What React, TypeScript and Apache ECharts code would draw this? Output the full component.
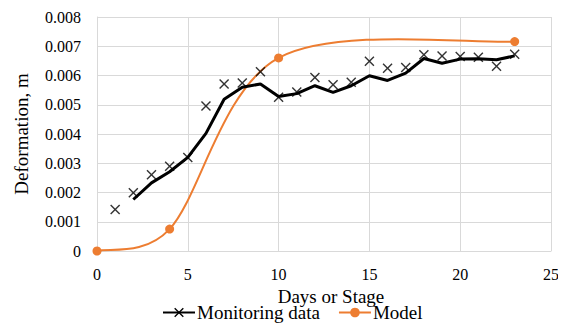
import React, { useEffect, useRef } from "react";
import * as echarts from "echarts";

const monitorDays = [1, 2, 3, 4, 5, 6, 7, 8, 9, 10, 11, 12, 13, 14, 15, 16, 17, 18, 19, 20, 21, 22, 23];
const monitorValues = [0.00142, 0.00199, 0.00261, 0.0029, 0.0032, 0.00496, 0.00571, 0.00574, 0.00613, 0.00526, 0.00544, 0.00593, 0.00568, 0.00577, 0.00649, 0.00625, 0.00627, 0.00671, 0.00667, 0.00665, 0.00662, 0.00632, 0.00673];

const trendDays = [2, 3, 4, 5, 6, 7, 8, 9, 10, 11, 12, 13, 14, 15, 16, 17, 18, 19, 20, 21, 22, 23];
const trendValues = [0.00176, 0.00233, 0.00271, 0.0032, 0.00402, 0.00519, 0.0056, 0.00571, 0.00528, 0.00538, 0.00565, 0.00542, 0.00565, 0.00599, 0.00583, 0.00608, 0.00658, 0.00642, 0.00656, 0.00657, 0.00654, 0.00667];

const modelDays = [0, 4, 10, 23];
const modelValues = [0, 0.00075, 0.0066, 0.00716];

const xTicks = { min: 0, max: 25, interval: 5 };
const yTicks = { min: 0, max: 0.008, interval: 0.001 };

const CROSS = "path://M0,1L1,0L5,4L9,0L10,1L6,5L10,9L9,10L5,6L1,10L0,9L4,5Z";
const FONT = "'Liberation Serif', 'Times New Roman', serif";
const ORANGE = "#ED7D31";

// Excel-style smoothed curve through the model points (rendering only)
function renderModelCurve(params: any, api: any) {
  if (params.dataIndex !== 0) return null;
  const pts = modelDays.map((d, i) => api.coord([d, modelValues[i]]) as number[]);
  const n = pts.length;
  const dist = (a: number[], b: number[]) => Math.hypot(a[0] - b[0], a[1] - b[1]);
  const children: any[] = [];
  for (let i = 0; i < n - 1; i++) {
    const p0 = pts[Math.max(0, i - 1)];
    const p1 = pts[i];
    const p2 = pts[i + 1];
    const p3 = pts[Math.min(n - 1, i + 2)];
    const d12 = dist(p1, p2);
    const d02 = dist(p0, p2);
    const d13 = dist(p1, p3);
    let f0 = 1 / 6;
    let f1 = 1 / 6;
    if (d02 / 6 > d12 / 2 && d02 > 0) f0 = d12 / 2 / d02;
    if (d13 / 6 > d12 / 2 && d13 > 0) f1 = d12 / 2 / d13;
    const c1 = [p1[0] + (p2[0] - p0[0]) * f0, p1[1] + (p2[1] - p0[1]) * f0];
    const c2 = [p2[0] - (p3[0] - p1[0]) * f1, p2[1] - (p3[1] - p1[1]) * f1];
    children.push({
      type: "bezierCurve",
      shape: { x1: p1[0], y1: p1[1], cpx1: c1[0], cpy1: c1[1], cpx2: c2[0], cpy2: c2[1], x2: p2[0], y2: p2[1] },
      style: { stroke: ORANGE, lineWidth: 2, fill: null },
      silent: true,
    });
  }
  return { type: "group", children };
}

export default function App() {
  const ref = useRef<HTMLDivElement>(null);
  useEffect(() => {
    if (!ref.current) return;
    const chart = echarts.init(ref.current, null, { renderer: "svg" });
    chart.setOption({
      animation: false,
      grid: { left: 97, right: 15, top: 17, bottom: 80, containLabel: false },
      legend: {
        top: 298,
        left: 157,
        itemWidth: 32,
        itemHeight: 12,
        itemGap: 18,
        data: [
          { name: "Monitoring data", lineStyle: { width: 2, color: "#000", opacity: 1 } },
          { name: "Model", lineStyle: { width: 2, color: ORANGE, opacity: 1 } },
        ],
        textStyle: { fontFamily: FONT, fontSize: 19, color: "#000", padding: [0, 0, 0, -3] },
      },
      xAxis: {
        type: "value",
        min: xTicks.min,
        max: xTicks.max,
        interval: xTicks.interval,
        name: "Days or Stage",
        nameLocation: "middle",
        nameGap: 28,
        nameTextStyle: { fontFamily: FONT, fontSize: 19, color: "#000", padding: [0, 0, 0, 14] },
        axisLine: { show: true, lineStyle: { color: "#d9d9d9", width: 1 } },
        axisTick: { show: false },
        axisLabel: { fontFamily: FONT, fontSize: 16, color: "#000", margin: 15 },
        splitLine: { show: true, lineStyle: { color: "#d9d9d9", width: 1 } },
      },
      yAxis: {
        type: "value",
        min: yTicks.min,
        max: yTicks.max,
        interval: yTicks.interval,
        name: "Deformation, m",
        nameLocation: "middle",
        nameGap: 66,
        nameTextStyle: { fontFamily: FONT, fontSize: 19, color: "#000" },
        axisLine: { show: true, lineStyle: { color: "#d9d9d9", width: 1 } },
        axisTick: { show: false },
        axisLabel: {
          fontFamily: FONT,
          fontSize: 16,
          color: "#000",
          margin: 16,
          formatter: (v: number) => (v === 0 ? "0" : v.toFixed(3)),
        },
        splitLine: { show: true, lineStyle: { color: "#d9d9d9", width: 1 } },
      },
      series: [
        {
          name: "Model curve",
          type: "custom",
          renderItem: renderModelCurve,
          data: modelDays.map((d, i) => [d, modelValues[i]]),
          encode: { x: 0, y: 1 },
          z: 2,
        },
        {
          name: "Monitoring data",
          type: "line",
          data: trendDays.map((d, i) => [d, trendValues[i]]),
          showSymbol: false,
          symbol: CROSS,
          symbolSize: 10,
          itemStyle: { color: "#000" },
          lineStyle: { color: "#000", width: 3 },
          z: 3,
        },
        {
          name: "Monitoring points",
          type: "scatter",
          data: monitorDays.map((d, i) => [d, monitorValues[i]]),
          symbol: CROSS,
          symbolSize: 10,
          itemStyle: { color: "#000" },
          z: 4,
        },
        {
          name: "Model",
          type: "line",
          data: modelDays.map((d, i) => [d, modelValues[i]]),
          symbol: "circle",
          symbolSize: 9,
          itemStyle: { color: ORANGE },
          lineStyle: { color: ORANGE, width: 0, opacity: 0 },
          z: 3,
        },
      ],
    });
    return () => chart.dispose();
  }, []);
  return <div ref={ref} style={{ width: 566, height: 331, margin: -8 }} />;
}
